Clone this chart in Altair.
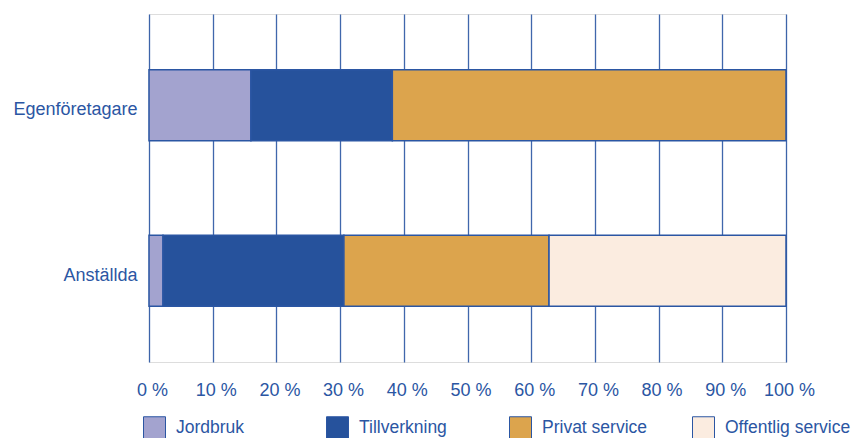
import altair as alt
import pandas as pd

groups = ["Egenföretagare", "Anställda"]
sectors = ["Jordbruk", "Tillverkning", "Privat service", "Offentlig service"]
egen = [16.0, 22.2, 61.8, 0.0]
anst = [2.2, 28.4, 32.2, 37.2]
ticks = list(range(0, 101, 10))
colors = ["#a3a3cf", "#26529c", "#dca44d", "#fbece0"]

BLUE = "#2b56a3"
FONT = "Liberation Sans"

rows = []
for g, vals in zip(groups, [egen, anst]):
    for i, (s, v) in enumerate(zip(sectors, vals)):
        if v > 0:
            rows.append({"grupp": g, "sektor": s, "andel": v, "ordning": i})
df = pd.DataFrame(rows)

chart = alt.Chart(df).mark_bar(stroke=BLUE, strokeWidth=1.5).encode(
    x=alt.X("andel:Q", stack="zero",
            scale=alt.Scale(domain=[0, 100], nice=False, zero=True),
            axis=alt.Axis(values=ticks, title=None, labelExpr="datum.value + ' %'",
                          grid=True, gridColor=BLUE, gridWidth=1.3, gridOpacity=0.9,
                          ticks=False, tickSize=0, domain=False, labelOverlap=False,
                          labelFlush=False,
                          labelFont=FONT, labelFontSize=18, labelColor=BLUE,
                          labelPadding=19, labelOffset=3)),
    y=alt.Y("grupp:N", sort=groups,
            scale=alt.Scale(paddingInner=0.571, paddingOuter=0.337),
            axis=alt.Axis(title=None, ticks=False, domain=False, grid=False,
                          labelFont=FONT, labelFontSize=18, labelColor=BLUE,
                          labelPadding=12, labelOffset=5)),
    color=alt.Color("sektor:N",
                    scale=alt.Scale(domain=sectors, range=colors),
                    legend=alt.Legend(title=None, orient="none", legendX=-6, legendY=402,
                                      direction="horizontal", columns=4, gridAlign="all",
                                      columnPadding=22, symbolType="square",
                                      symbolSize=484, symbolStrokeColor=BLUE,
                                      symbolStrokeWidth=1, symbolOpacity=1,
                                      labelFont=FONT, labelFontSize=17.5, labelColor=BLUE,
                                      labelOffset=10, labelLimit=300)),
    order=alt.Order("ordning:Q"),
).properties(
    width=637, height=348,
    autosize=alt.AutoSizeParams(type="none"),
    padding={"left": 141, "top": 6, "right": 66, "bottom": 76},
).configure_view(
    stroke=BLUE, strokeWidth=1.5
).configure(background="white")

chart.save("out.html", embed_options={"renderer": "svg", "actions": False})
